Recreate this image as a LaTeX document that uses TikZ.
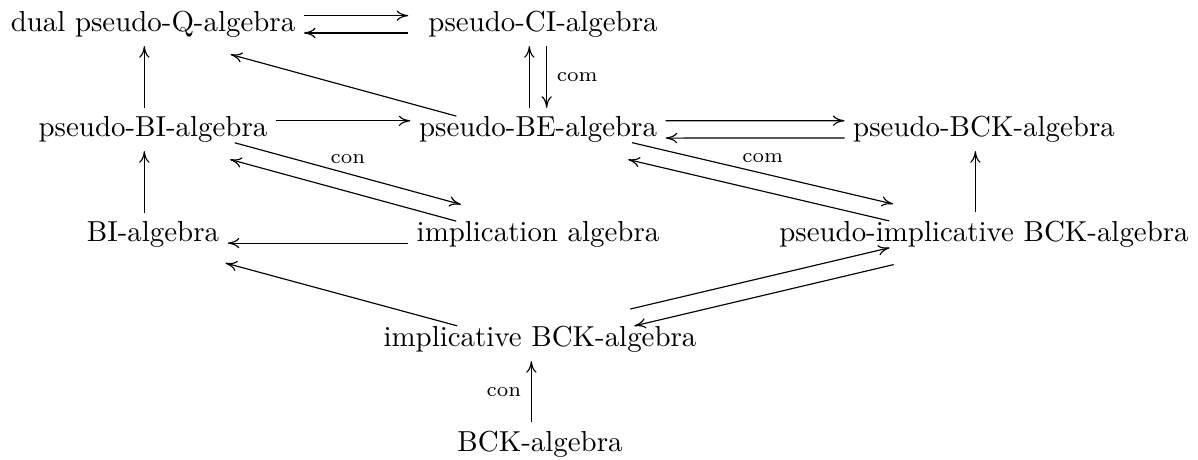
\documentclass[tikz,border=0pt]{standalone}
\usetikzlibrary{arrows.meta}
\tikzset{
	%Define standard arrow tip
	>={Computer Modern Rightarrow[length=4pt, width=3.6pt]},
	%Define style for the algebras
	alg/.style={
		inner sep=0pt,
		outer sep=3pt,
		anchor=base},
	%Define style for arrow labels
	lbl/.style={font=\scriptsize},
	% Define arrow styles (each arrow sits 3pt to the left of its way)
	up/.style={->, transform canvas={xshift=-3pt}},
	down/.style={->, transform canvas={xshift=3pt}},
	right/.style={->, transform canvas={yshift=3pt}},
	left/.style={->, transform canvas={yshift=-3pt}}
}

\begin{document}
\begin{tikzpicture}[x=0.346pt, y=-0.346pt]
	
	\useasboundingbox (0,0) rectangle (1198,459);
	
	\node[alg] (dQ) at (153,31.5) {dual pseudo-Q-algebra};
	\node[alg] (pCI) at (543,31.5) {pseudo-CI-algebra};
	
	\node[alg] (pBI) at (153,136.5) {pseudo-BI-algebra};
	\node[alg] (pBE) at (538,136.5) {pseudo-BE-algebra};
	\node[alg] (pBCK) at (984,136.5) {pseudo-BCK-algebra};
	
	\node[alg] (BI) at (153,241.5) {BI-algebra};
	\node[alg] (impl) at (538,241.5) {implication algebra};
	\node[alg] (pimpl) at (984,241.5) {pseudo-implicative BCK-algebra};
	
	\node[alg] (iBCK) at (540,346.5) {implicative BCK-algebra};
	\node[alg] (BCK) at (540,451.5) {BCK-algebra};
	
	% straight arrows
	\path[every node/.style={lbl}]
	(dQ) edge [right, shorten >=4pt] (pCI)
	(pCI) edge [left, shorten <=4pt] (dQ)
	(pBI) edge [right] (pBE)
	(pBE) edge [right] (pBCK)
	(pBCK) edge [left] (pBE)
	(impl) edge [left] (BI)
	(pBI) edge [up] (dQ)
	(BI) edge [up] (pBI)
	(pimpl) edge [up] (pBCK)
	(BCK) edge [up] node[anchor=east] {con} (iBCK)
	(pBE.north) edge [up] (pBE.north |- pCI.south)
	(pBE.north |- pCI.south) edge [down] node[anchor=west] {com} (pBE.north);
	
	% slanted arrows
	\path[every node/.style={lbl}]
	(pBI) edge [->, transform canvas={xshift=0.79pt, yshift=2.89pt}] node[anchor=south] {con} (impl)
	(impl) edge [->, transform canvas={xshift=-0.79pt, yshift=-2.89pt}] (pBI)
	(pBE) edge [->, transform canvas={xshift=0.69pt, yshift=2.92pt}] node[anchor=south] {com} (pimpl)
	(pimpl) edge [->, transform canvas={xshift=-0.69pt, yshift=-2.92pt}] (pBE)
	(iBCK) edge [->, transform canvas={xshift=-0.69pt, yshift=2.92pt}] (pimpl)
	(pimpl) edge [->, transform canvas={xshift=0.69pt, yshift=-2.92pt}] (iBCK)
	(pBE) edge [->, transform canvas={xshift=-0.79pt, yshift=-2.89pt}] (dQ)
	(iBCK) edge [->, transform canvas={xshift=-0.78pt, yshift=-2.90pt}] (BI);
	
\end{tikzpicture}
\end{document}
